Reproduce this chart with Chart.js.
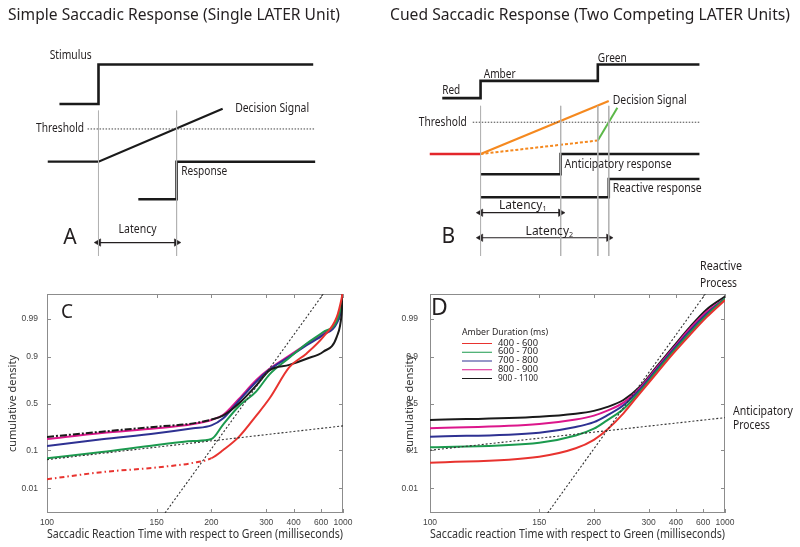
<!DOCTYPE html>
<html>
<head>
<meta charset="utf-8">
<script src="https://cdn.jsdelivr.net/npm/chart.js@4.4.1/dist/chart.umd.min.js"></script>
<style>
  html, body { margin: 0; padding: 0; background: #fff; }
  #fig { position: relative; width: 800px; height: 547px; overflow: hidden; }
  #fig canvas { position: absolute; }
</style>
</head>
<body>
<div id="fig">
  <canvas id="panelA" width="400" height="256" style="left:0px;top:0px"></canvas>
  <canvas id="panelB" width="420" height="256" style="left:380px;top:0px"></canvas>
  <canvas id="panelC" width="400" height="291" style="left:0px;top:256px"></canvas>
  <canvas id="panelD" width="400" height="291" style="left:400px;top:256px"></canvas>
</div>
<script>
// ---------- schematic A (time in ms from stimulus, level in arbitrary units)
const A_STIMULUS_T = [-100, 0, 0, 550];
const A_STIMULUS_V = [15.3, 15.3, 19.4, 19.4];
const A_DECISION_T = [-130, 0, 318];
const A_DECISION_V = [9.3, 9.3, 14.8];
const A_THRESHOLD_T = [-28, 555];
const A_THRESHOLD_V = [12.7, 12.7];
const A_RESPONSE_T = [102, 200, 200, 555];
const A_RESPONSE_V = [5.4, 5.4, 9.3, 9.3];
const A_EVENT_T = [0, 200];          // stimulus onset, response
const A_GUIDE_V = [14.6, -0.5];
const A_LATENCY_V = 0.9;

// ---------- schematic B (time in ms from amber onset)
const B_SIGNAL_T = [-98, 0, 0, 300, 300, 560];
const B_SIGNAL_V = [15.9, 15.9, 17.7, 17.7, 19.4, 19.4];
const B_EVENT_T = [0, 205, 300, 328]; // amber, anticipatory, green, reactive
const B_GUIDE_V = [15.1, -0.5];
const B_THRESHOLD_T = [-20, 560];
const B_THRESHOLD_V = [13.4, 13.4];
const B_RED_T = [-130, 0];
const B_RED_V = [10.1, 10.1];
const B_ORANGE_T = [0, 328];
const B_ORANGE_V = [10.1, 15.6];
const B_ORANGE_DOT_T = [0, 300];
const B_ORANGE_DOT_V = [10.1, 11.5];
const B_GREEN_T = [300, 350];
const B_GREEN_V = [11.5, 14.9];
const B_ANTIC_T = [0, 205, 205, 560];
const B_ANTIC_V = [8.0, 8.0, 10.1, 10.1];
const B_REACT_T = [0, 328, 328, 560];
const B_REACT_V = [5.6, 5.6, 7.5, 7.5];
const B_LATENCY1_T = [0, 205];
const B_LATENCY1_V = 4.0;
const B_LATENCY2_T = [0, 328];
const B_LATENCY2_V = 1.4;

// ---------- reciprobit axes
const X_TICKS = [100, 150, 200, 300, 400, 600, 1000];
const Y_TICKS = [0.01, 0.1, 0.5, 0.9, 0.99];
const AMBER_RANGES = ['400 - 600', '600 - 700', '700 - 800', '800 - 900', '900 - 1100'];

// ---------- C: observed cumulative densities
const C_RT = [100, 120, 150, 180, 200, 215, 240, 275, 310, 380, 475, 625, 840, 960, 1000];
const C_400_600 = [0.019, 0.03, 0.04, 0.052, 0.067, 0.1, 0.18, 0.37, 0.56, 0.84, 0.915, 0.966, 0.991, 0.998, 0.999];
const C_600_700 = [0.067, 0.092, 0.128, 0.152, 0.165, 0.28, 0.47, 0.63, 0.79, 0.895, 0.95, 0.975, 0.988, 0.997, 0.999];
const C_700_800 = [0.122, 0.163, 0.207, 0.248, 0.275, 0.34, 0.53, 0.725, 0.825, 0.9, 0.945, 0.97, 0.986, 0.996, 0.999];
const C_800_900 = [0.165, 0.21, 0.248, 0.287, 0.326, 0.376, 0.55, 0.74, 0.83, 0.905, 0.948, 0.972, 0.988, 0.997, 0.999];
const C_900_1100 = [0.18, 0.22, 0.263, 0.293, 0.33, 0.37, 0.5, 0.69, 0.82, 0.855, 0.89, 0.922, 0.966, 0.993, 0.999];
const C_ANTIC_RT = [100, 1000];
const C_ANTIC_P = [0.062, 0.27];

// ---------- D: model fits
const D_RT = [100, 150, 180, 200, 217, 244, 278, 324, 388, 484, 641, 1000];
const D_400_600 = [0.052, 0.0725, 0.11, 0.16, 0.234, 0.394, 0.61, 0.796, 0.915, 0.97, 0.991, 0.9977];
const D_600_700 = [0.115, 0.141, 0.19, 0.245, 0.32, 0.44, 0.63, 0.812, 0.923, 0.974, 0.992, 0.998];
const D_700_800 = [0.182, 0.212, 0.26, 0.305, 0.37, 0.48, 0.65, 0.825, 0.93, 0.977, 0.993, 0.998];
const D_800_900 = [0.248, 0.287, 0.33, 0.37, 0.42, 0.51, 0.665, 0.835, 0.935, 0.98, 0.994, 0.998];
const D_900_1100 = [0.326, 0.359, 0.39, 0.42, 0.46, 0.538, 0.677, 0.843, 0.94, 0.982, 0.995, 0.9983];
const D_ANTIC_RT = [100, 1000];
const D_ANTIC_P = [0.1, 0.349];

// reactive process line (same in C and D)
const REACTIVE_RT = [156, 625];
const REACTIVE_P = [0.00135, 0.99865];

const SERIES_COLORS = ['#e8332f', '#1b9a4e', '#2e3192', '#dc168b', '#1a1a1a'];
const INK = '#231f20';
const FONT = "'Noto Sans', sans-serif";

Chart.defaults.font.family = FONT;
Chart.defaults.color = '#333';

// inverse normal cdf (Acklam) used by the probit axis
function probit(p) {
    const a = [-39.69683028665376, 220.9460984245205, -275.9285104469687, 138.357751867269, -30.66479806614716, 2.506628277459239];
    const b = [-54.47609879822406, 161.5858368580409, -155.6989798598866, 66.80131188771972, -13.28068155288572];
    const c = [-0.007784894002430293, -0.3223964580411365, -2.400758277161838, -2.549671750376486, 4.374664141464968, 2.938163982698783];
    const d = [0.007784695709041462, 0.3224671290700398, 2.445134137142996, 3.754408661907416];
    const pl = 0.02425;
    if (p < pl) {
        const q = Math.sqrt(-2 * Math.log(p));
        return (((((c[0] * q + c[1]) * q + c[2]) * q + c[3]) * q + c[4]) * q + c[5]) / ((((d[0] * q + d[1]) * q + d[2]) * q + d[3]) * q + 1);
    }
    if (p > 1 - pl) {
        const q = Math.sqrt(-2 * Math.log(1 - p));
        return -(((((c[0] * q + c[1]) * q + c[2]) * q + c[3]) * q + c[4]) * q + c[5]) / ((((d[0] * q + d[1]) * q + d[2]) * q + d[3]) * q + 1);
    }
    const q = p - 0.5, r = q * q;
    return (((((a[0] * r + a[1]) * r + a[2]) * r + a[3]) * r + a[4]) * r + a[5]) * q / (((((b[0] * r + b[1]) * r + b[2]) * r + b[3]) * r + b[4]) * r + 1);
}

// probit y axis
class ProbitScale extends Chart.LinearScale {
    static id = 'probit';
    static defaults = {};
    determineDataLimits() { this.min = this.options.min; this.max = this.options.max; }
    buildTicks() { return []; }
    configure() {
        super.configure();
        this._zLo = probit(this.min);
        this._zHi = probit(this.max);
    }
    getPixelForValue(v) {
        return this.getPixelForDecimal((probit(v) - this._zLo) / (this._zHi - this._zLo));
    }
    getValueForPixel(px) {
        const z = this._zLo + this.getDecimalForPixel(px) * (this._zHi - this._zLo);
        let lo = this.min, hi = this.max;
        for (let i = 0; i < 40; i++) {
            const mid = (lo + hi) / 2;
            if (probit(mid) < z) lo = mid; else hi = mid;
        }
        return lo;
    }
}

// reciprocal (-1/t) x axis
class ReciprocalScale extends Chart.LinearScale {
    static id = 'reciprocal';
    static defaults = {};
    determineDataLimits() { this.min = this.options.min; this.max = this.options.max; }
    buildTicks() { return []; }
    getPixelForValue(v) {
        return this.getPixelForDecimal((1 / this.min - 1 / v) / (1 / this.min - 1 / this.max));
    }
    getValueForPixel(px) {
        const d = this.getDecimalForPixel(px);
        return 1 / (1 / this.min - d * (1 / this.min - 1 / this.max));
    }
}

Chart.register(ProbitScale, ReciprocalScale);

function xy(ts, vs) {
    return ts.map((t, i) => ({ x: t, y: Array.isArray(vs) ? vs[i] : vs }));
}

// text labels: at 'data' (scale units) or canvas pixels
function notesPlugin(notes) {
    return {
        id: 'notes',
        afterDraw(chart) {
            const { ctx, scales } = chart;
            ctx.save();
            ctx.textBaseline = 'middle';
            notes.forEach(n => {
                const px = n.data ? scales.x.getPixelForValue(n.x) : n.x;
                const py = n.data ? scales.y.getPixelForValue(n.y) : n.y;
                const size = n.size || 12;
                ctx.fillStyle = n.color || INK;
                ctx.font = `${size}px ${FONT}`;
                if (n.sub) {
                    const w = ctx.measureText(n.text).width;
                    ctx.font = `${size * 0.6}px ${FONT}`;
                    const ws = ctx.measureText(n.sub).width;
                    const x0 = px - (w + ws) / 2;
                    ctx.textAlign = 'left';
                    ctx.fillText(n.sub, x0 + w, py + size * 0.25);
                    ctx.font = `${size}px ${FONT}`;
                    ctx.fillText(n.text, x0, py);
                    return;
                }
                ctx.textAlign = n.align || 'left';
                if (n.w) ctx.fillText(n.text, px, py, n.w);
                else ctx.fillText(n.text, px, py);
            });
            ctx.restore();
        }
    };
}

function trace(data, color, width, dash) {
    return {
        data, borderColor: color, borderWidth: width, borderDash: dash || [],
        pointRadius: 0, tension: 0, fill: false, clip: false
    };
}

function arrow(data) {
    return {
        data, borderColor: INK, borderWidth: 1.2, tension: 0, fill: false, clip: false,
        pointStyle: 'triangle', pointRadius: 4.3, pointRotation: [-90, 90],
        pointBackgroundColor: INK, pointBorderColor: INK, pointBorderWidth: 0.5
    };
}

function schematic(id, xMin, xMax, datasets, notes) {
    return new Chart(document.getElementById(id), {
        type: 'line',
        data: { datasets },
        options: {
            responsive: false,
            animation: false,
            events: [],
            layout: { padding: 0 },
            scales: {
                x: { type: 'linear', display: false, min: xMin, max: xMax },
                y: { type: 'linear', display: false, min: 0, max: 25.6 }
            },
            plugins: { legend: { display: false }, tooltip: { enabled: false } }
        },
        plugins: [notesPlugin(notes)]
    });
}

const STEP = '#1a1a1a';
const GUIDE = '#b3b3b3';
const DOTTED = '#444';

// ---------- panel A
schematic('panelA', -240, 760, [
    ...A_EVENT_T.map(t => trace(xy([t, t], A_GUIDE_V), GUIDE, 1)),
    trace(xy(A_THRESHOLD_T, A_THRESHOLD_V), DOTTED, 1, [1.5, 1.5]),
    trace(xy(A_STIMULUS_T, A_STIMULUS_V), STEP, 2.6),
    trace(xy(A_DECISION_T, A_DECISION_V), STEP, 2.2),
    trace(xy(A_RESPONSE_T, A_RESPONSE_V), STEP, 2.6),
    arrow(xy(A_EVENT_T, A_LATENCY_V))
], [
    { text: 'Simple Saccadic Response (Single LATER Unit)', x: 8, y: 15, size: 17, w: 332 },
    { data: true, text: 'Stimulus', x: -125, y: 20.3, w: 42 },
    { data: true, text: 'Decision Signal', x: 350, y: 14.8, w: 74 },
    { data: true, text: 'Threshold', x: -160, y: 12.7, w: 48 },
    { data: true, text: 'Response', x: 212, y: 8.3, w: 46 },
    { data: true, text: 'Latency', x: 100, y: 2.2, align: 'center', w: 38 },
    { data: true, text: 'A', x: -90, y: 1.35, size: 21 }
]);

// ---------- panel B
schematic('panelB', -245, 805, [
    ...B_EVENT_T.map(t => trace(xy([t, t], B_GUIDE_V), GUIDE, 1)),
    trace(xy(B_THRESHOLD_T, B_THRESHOLD_V), DOTTED, 1, [1.5, 1.5]),
    trace(xy(B_SIGNAL_T, B_SIGNAL_V), STEP, 2.6),
    trace(xy(B_GREEN_T, B_GREEN_V), '#5cb848', 2),
    trace(xy(B_ORANGE_T, B_ORANGE_V), '#f5891f', 2.2),
    trace(xy(B_ORANGE_DOT_T, B_ORANGE_DOT_V), '#f5891f', 2, [3, 2]),
    trace(xy(B_RED_T, B_RED_V), '#e3262b', 2.4),
    trace(xy(B_ANTIC_T, B_ANTIC_V), STEP, 2.6),
    trace(xy(B_REACT_T, B_REACT_V), STEP, 2.6),
    arrow(xy(B_LATENCY1_T, B_LATENCY1_V)),
    arrow(xy(B_LATENCY2_T, B_LATENCY2_V))
], [
    { text: 'Cued Saccadic Response (Two Competing LATER Units)', x: 10, y: 15, size: 17, w: 400 },
    { data: true, text: 'Red', x: -98, y: 16.7, w: 18 },
    { data: true, text: 'Amber', x: 8, y: 18.4, w: 32 },
    { data: true, text: 'Green', x: 300, y: 20.0, w: 29 },
    { data: true, text: 'Threshold', x: -158, y: 13.4, w: 48 },
    { data: true, text: 'Decision Signal', x: 338, y: 15.7, w: 74 },
    { data: true, text: 'Anticipatory response', x: 215, y: 9.0, w: 107 },
    { data: true, text: 'Reactive response', x: 338, y: 6.5, w: 89 },
    { data: true, text: 'Latency', sub: '1', x: 108, y: 4.7 },
    { data: true, text: 'Latency', sub: '2', x: 176, y: 2.0 },
    { data: true, text: 'B', x: -100, y: 1.5, size: 21 }
]);

// ---------- reciprobit panels
const framePlugin = {
    id: 'frame',
    beforeDatasetsDraw(chart) {
        const { ctx, chartArea: a, scales: { x, y } } = chart;
        ctx.save();
        ctx.strokeStyle = '#8c8c8c';
        ctx.lineWidth = 1;
        ctx.strokeRect(a.left + 0.5, a.top + 0.5, a.width - 1, a.height - 1);
        ctx.beginPath();
        x.ticks.forEach(t => {
            const px = Math.round(x.getPixelForValue(t.value)) + 0.5;
            ctx.moveTo(px, a.bottom); ctx.lineTo(px, a.bottom - 4);
            ctx.moveTo(px, a.top); ctx.lineTo(px, a.top + 4);
        });
        y.ticks.forEach(t => {
            const py = Math.round(y.getPixelForValue(t.value)) + 0.5;
            ctx.moveTo(a.left, py); ctx.lineTo(a.left + 4, py);
            ctx.moveTo(a.right, py); ctx.lineTo(a.right - 4, py);
        });
        ctx.stroke();
        ctx.restore();
    }
};

const legendPlugin = {
    id: 'amberLegend',
    afterDraw(chart) {
        const ctx = chart.ctx;
        ctx.save();
        ctx.textBaseline = 'middle';
        ctx.textAlign = 'left';
        ctx.fillStyle = INK;
        ctx.font = `9.5px ${FONT}`;
        ctx.fillText('Amber Duration (ms)', 62, 76, 86);
        chart.data.datasets.filter(ds => ds.label).forEach((ds, i) => {
            const y = 87 + i * 8.75;
            ctx.strokeStyle = ds.borderColor;
            ctx.lineWidth = 1;
            ctx.beginPath();
            ctx.moveTo(62, y + 0.5); ctx.lineTo(92, y + 0.5);
            ctx.stroke();
            ctx.fillStyle = INK;
            ctx.fillText(ds.label, 98, y, 40);
        });
        ctx.restore();
    }
};

function curve(label, rt, p, color, dashLeft) {
    const ds = {
        label, data: xy(rt, p), borderColor: color, borderWidth: 2,
        pointRadius: 0, fill: false, cubicInterpolationMode: 'monotone'
    };
    if (dashLeft) ds.segment = { borderDash: c => rt[c.p1DataIndex] <= 200 ? dashLeft : undefined };
    return ds;
}

function dotted(rt, p) {
    return { data: xy(rt, p), borderColor: '#333', borderWidth: 1.1, borderDash: [2, 2], pointRadius: 0, fill: false };
}

function reciprobit(id, datasets, xTitle, yWidth, yLabelPad, yTitlePad, rightPad, notes, extra) {
    return new Chart(document.getElementById(id), {
        type: 'line',
        data: { datasets },
        options: {
            responsive: false,
            animation: false,
            events: [],
            layout: { padding: { top: 38, right: rightPad, left: 0, bottom: 0 } },
            scales: {
                x: {
                    type: 'reciprocal', min: 100, max: 1000, position: 'bottom',
                    grid: { display: false, drawTicks: false }, border: { display: false },
                    afterBuildTicks: s => { s.ticks = X_TICKS.map(value => ({ value })); },
                    afterFit: s => { s.height = 34; },
                    ticks: {
                        callback: v => String(v), autoSkip: false, maxRotation: 0, padding: 5,
                        color: '#444', font: { size: 8.5, family: "'Liberation Sans', sans-serif" }
                    },
                    title: { display: true, text: xTitle, color: '#333', font: { size: 12 }, padding: { top: 0, bottom: 5 } }
                },
                y: {
                    type: 'probit', min: 0.00135, max: 0.99865, position: 'left',
                    grid: { display: false, drawTicks: false }, border: { display: false },
                    afterBuildTicks: s => { s.ticks = Y_TICKS.map(value => ({ value })); },
                    afterFit: s => { s.width = yWidth; },
                    ticks: {
                        callback: v => String(v), autoSkip: false, padding: yLabelPad,
                        color: '#444', font: { size: 8.5, family: "'Liberation Sans', sans-serif" }
                    },
                    title: { display: true, text: 'cumulative density', color: '#333', font: { size: 11 }, padding: { top: yTitlePad, bottom: 0 } }
                }
            },
            plugins: { legend: { display: false }, tooltip: { enabled: false } }
        },
        plugins: [framePlugin, notesPlugin(notes)].concat(extra || [])
    });
}

const C_SERIES = [C_400_600, C_600_700, C_700_800, C_800_900, C_900_1100];
const D_SERIES = [D_400_600, D_600_700, D_700_800, D_800_900, D_900_1100];

reciprobit('panelC', [
    dotted(REACTIVE_RT, REACTIVE_P),
    dotted(C_ANTIC_RT, C_ANTIC_P),
    curve(AMBER_RANGES[0], C_RT, C_SERIES[0], SERIES_COLORS[0], [5, 3, 1.5, 3]),
    curve(AMBER_RANGES[4], C_RT, C_SERIES[4], SERIES_COLORS[4], [7, 2, 2, 2]),
    curve(AMBER_RANGES[1], C_RT, C_SERIES[1], SERIES_COLORS[1]),
    curve(AMBER_RANGES[2], C_RT, C_SERIES[2], SERIES_COLORS[2]),
    curve(AMBER_RANGES[3], C_RT, C_SERIES[3], SERIES_COLORS[3])
], 'Saccadic Reaction Time with respect to Green (milliseconds)', 47, 9, 6.5, 57, [
    { text: 'C', x: 61, y: 57, size: 19 }
]);

reciprobit('panelD', [
    dotted(REACTIVE_RT, REACTIVE_P),
    dotted(D_ANTIC_RT, D_ANTIC_P),
    ...D_SERIES.map((s, i) => curve(AMBER_RANGES[i], D_RT, s, SERIES_COLORS[i]))
], 'Saccadic reaction Time with respect to Green (milliseconds)', 30, 12, 3.5, 75, [
    { text: 'D', x: 31, y: 52, size: 23 },
    { text: 'Reactive', x: 300, y: 11, size: 12, w: 42 },
    { text: 'Process', x: 300, y: 27.5, size: 12, w: 37 },
    { text: 'Anticipatory', x: 333, y: 156, size: 12, w: 60 },
    { text: 'Process', x: 333, y: 170, size: 12, w: 37 }
], [legendPlugin]);
</script>
</body>
</html>
